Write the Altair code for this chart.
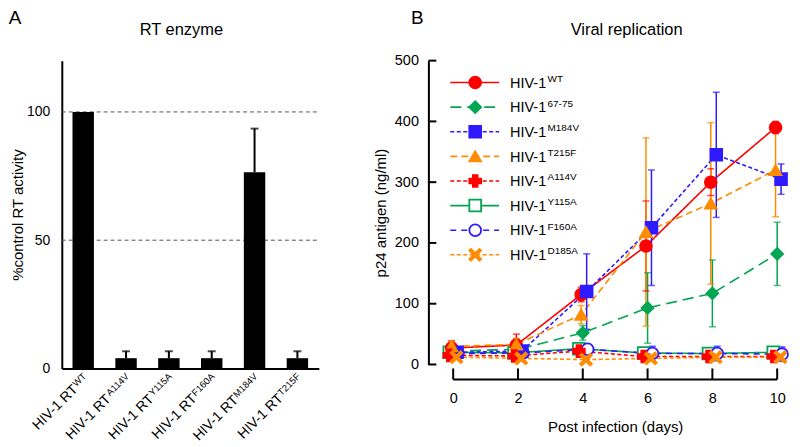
import altair as alt
import pandas as pd

FONT = "Liberation Sans"

# ---------------- Panel A data ----------------
rt_cats = ["WT", "A114V", "Y115A", "F160A", "M184V", "T215F"]
rt_vals = [100, 4, 4, 4, 76.5, 4]
rt_errs = [0, 2.7, 2.7, 2.7, 17, 2.7]
grid_vals = [50, 100]

# ---------------- Panel B data ----------------
days = [0, 2, 4, 6, 8, 10]
series = ["WT", "67-75", "M184V", "T215F", "A114V", "Y115A", "F160A", "D185A"]
vals = {
    "WT":    [27, 32, 115, 195, 300, 390],
    "67-75": [22, 25, 52, 93, 117, 182],
    "M184V": [20, 22, 120, 225, 345, 305],
    "T215F": [30, 33, 82, 218, 265, 320],
    "A114V": [15, 14, 22, 13, 13, 13],
    "Y115A": [20, 19, 26, 19, 18, 20],
    "F160A": [18, 19, 25, 18, 18, 17],
    "D185A": [12, 10, 8, 10, 12, 12],
}
errs = {
    "WT":    [12, 18, 12, 74, 22, 10],
    "67-75": [6, 6, 12, 58, 55, 52],
    "M184V": [5, 5, 62, 95, 103, 25],
    "T215F": [8, 10, 15, 155, 133, 77],
    "A114V": [4, 3, 4, 3, 3, 3],
    "Y115A": [4, 3, 4, 3, 3, 3],
    "F160A": [5, 4, 6, 12, 12, 12],
    "D185A": [3, 2, 2, 2, 2, 2],
}
y_ticks = [0, 100, 200, 300, 400, 500]

# styles
colors = {"WT": "#FF0000", "67-75": "#00A651", "M184V": "#2E1AFF", "T215F": "#FF8C00",
          "A114V": "#FF0000", "Y115A": "#00A651", "F160A": "#2E1AFF", "D185A": "#FF8C00"}
dashes = {"WT": [1, 0], "67-75": [11, 6], "M184V": [4, 2.5], "T215F": [7, 4],
          "A114V": [4, 2.5], "Y115A": [1, 0], "F160A": [6, 5], "D185A": [4, 2.5]}
XPATH = "M-0.72,-1L0,-0.28L0.72,-1L1,-0.72L0.28,0L1,0.72L0.72,1L0,0.28L-0.72,1L-1,0.72L-0.28,0L-1,-0.72Z"
shapes = {"WT": "circle", "67-75": "diamond", "M184V": "square", "T215F": "triangle-up",
          "A114V": "cross", "Y115A": "square", "F160A": "circle", "D185A": XPATH}
fills = {"WT": "#FF0000", "67-75": "#00A651", "M184V": "#2E1AFF", "T215F": "#FF8C00",
         "A114V": "#FF0000", "Y115A": "white", "F160A": "white", "D185A": "#FF8C00"}
dodge = {"WT": -0.05, "67-75": 0.0, "M184V": 0.12, "T215F": -0.05,
         "A114V": -0.12, "Y115A": -0.12, "F160A": 0.15, "D185A": 0.1}
draw_order = ["Y115A", "F160A", "WT", "67-75", "M184V", "T215F", "A114V", "D185A"]

# ---------------- helpers ----------------
CW = {'W': 0.944, 'T': 0.611, 'A': 0.667, '1': 0.556, '4': 0.556, 'V': 0.667, 'Y': 0.667,
      '5': 0.556, 'F': 0.611, '6': 0.556, '0': 0.556, 'M': 0.833, '8': 0.556, '2': 0.556,
      'H': 0.722, 'I': 0.278, '-': 0.333, ' ': 0.278, 'R': 0.722, '7': 0.556}


def text_w(s, fs):
    return sum(CW.get(c, 0.556) for c in s) * fs


# ================= Panel A =================
W1, H1 = 258, 309
dfA = pd.DataFrame({"cat": rt_cats, "val": rt_vals, "err": rt_errs})
dfA["top"] = dfA["val"] + dfA["err"]
dfG = pd.DataFrame({"g": grid_vals})

xA = alt.X("cat:N", sort=rt_cats,
           scale=alt.Scale(paddingInner=0.5, paddingOuter=0.25),
           axis=alt.Axis(labels=False, ticks=False, title=None, domainWidth=2, domainColor="black"))
yscaleA = alt.Scale(domain=[0, 120], nice=False, zero=False, padding=0)
yaxisA = alt.Axis(values=[0, 50, 100], grid=False, ticks=False, labelPadding=12, labelFontSize=14,
                  title="%control RT activity", titleFontSize=15, titleFontWeight="normal",
                  titlePadding=1, domainWidth=2, domainColor="black")

gridA = alt.Chart(dfG).mark_rule(strokeDash=[4, 3], color="#555555", strokeWidth=1).encode(
    y=alt.Y("g:Q", scale=yscaleA, axis=yaxisA), x=alt.value(0), x2=alt.value(W1))
bars = alt.Chart(dfA).mark_bar(color="black").encode(
    x=xA, y=alt.Y("val:Q", scale=yscaleA, axis=yaxisA))
errA = alt.Chart(dfA[dfA["err"] > 0]).mark_rule(color="black", strokeWidth=2).encode(
    x=xA, y=alt.Y("val:Q", scale=yscaleA, axis=yaxisA), y2="top:Q")
capA = alt.Chart(dfA[dfA["err"] > 0]).mark_tick(color="black", orient="horizontal", size=8, thickness=2).encode(
    x=xA, y=alt.Y("top:Q", scale=yscaleA, axis=yaxisA))

LFS, SFS = 14, 9.5
label_layers = []
for c in rt_cats:
    d = pd.DataFrame({"cat": [c], "base": ["HIV-1 RT"], "sup": [c]})
    sw = text_w(c, SFS)
    base = alt.Chart(d).mark_text(angle=315, align="right", baseline="alphabetic", fontSize=LFS,
                                  dx=-(sw + 0.5), dy=8.5, color="black").encode(
        x=xA, y=alt.value(H1 + 5), text="base:N")
    sup = alt.Chart(d).mark_text(angle=315, align="right", baseline="alphabetic", fontSize=SFS,
                                 dy=5, color="black").encode(
        x=xA, y=alt.value(H1 + 5), text="sup:N")
    label_layers += [base, sup]

titleA = alt.Chart(pd.DataFrame({"t": ["RT enzyme"]})).mark_text(
    fontSize=16.5, align="center", baseline="middle", color="black").encode(
    text="t:N", x=alt.value(120), y=alt.value(-31))
letterA = alt.Chart(pd.DataFrame({"t": ["A"]})).mark_text(
    fontSize=19, align="center", baseline="middle", color="black").encode(
    text="t:N", x=alt.value(-47), y=alt.value(-43))

panelA = alt.layer(gridA, bars, errA, capA, *label_layers, titleA, letterA).properties(
    width=W1, height=H1)

# ================= Panel B =================
PXD = 32.5                 # pixels per day
XLO, XHI = -0.15, 10.15    # x domain (room for dodged markers)
W2, H2 = round((XHI - XLO) * PXD), 305
rows = []
for s in draw_order:
    for i, d in enumerate(days):
        v = vals[s][i]
        e = errs[s][i]
        rows.append({"series": s, "day": d, "xd": d + dodge[s], "val": v,
                     "lo": v - e, "hi": v + e})
dfB = pd.DataFrame(rows)

cscale = alt.Scale(domain=series, range=[colors[s] for s in series])
dscale = alt.Scale(domain=series, range=[dashes[s] for s in series])
shscale = alt.Scale(domain=series, range=[shapes[s] for s in series])
fscale = alt.Scale(domain=series, range=[fills[s] for s in series])

xscaleB = alt.Scale(domain=[XLO, XHI], nice=False, zero=False, padding=0)
xaxisB = alt.Axis(values=days, offset=15, ticks=False, domain=False,
                  labelPadding=12, labelFontSize=14.5, grid=False,
                  title="Post infection (days)", titleFontSize=15, titleFontWeight="normal",
                  titlePadding=15)
yscaleB = alt.Scale(domain=[0, 500], nice=False, zero=False, padding=0)
YOFF = round(-XLO * PXD) + 15
yaxisB = alt.Axis(values=y_ticks, offset=YOFF, ticks=False, domainWidth=2, domainColor="black",
                  labelPadding=10, labelFontSize=14.5, grid=False,
                  title="p24 antigen (ng/ml)", titleFontSize=15, titleFontWeight="normal",
                  titlePadding=6)


def XB(f):
    return alt.X(f, scale=xscaleB, axis=xaxisB)


def YB(f):
    return alt.Y(f, scale=yscaleB, axis=yaxisB)


col = alt.Color("series:N", scale=cscale, legend=None)
dash = alt.StrokeDash("series:N", scale=dscale, legend=None)

xline = alt.Chart(pd.DataFrame({"a": [days[0]], "b": [days[-1]]})).mark_rule(
    color="black", strokeWidth=2).encode(x=XB("a:Q"), x2="b:Q", y=alt.value(H2 + 15))
xticks = alt.Chart(pd.DataFrame({"t": days})).mark_rule(color="black", strokeWidth=2).encode(
    x=XB("t:Q"), y=alt.value(H2 + 4), y2=alt.value(H2 + 15))
yticks = alt.Chart(pd.DataFrame({"v": y_ticks})).mark_rule(color="black", strokeWidth=2).encode(
    y=YB("v:Q"), x=alt.value(-YOFF), x2=alt.value(-YOFF + 8))

lines = alt.Chart(dfB).mark_line(strokeWidth=1.6).encode(
    x=XB("xd:Q"), y=YB("val:Q"), color=col, strokeDash=dash, detail="series:N")
errB = alt.Chart(dfB).mark_rule(strokeWidth=1.5).encode(
    x=XB("xd:Q"), y=YB("lo:Q"), y2="hi:Q", color=col)
capLo = alt.Chart(dfB).mark_tick(orient="horizontal", size=7, thickness=1.5).encode(
    x=XB("xd:Q"), y=YB("lo:Q"), color=col)
capHi = alt.Chart(dfB).mark_tick(orient="horizontal", size=7, thickness=1.5).encode(
    x=XB("xd:Q"), y=YB("hi:Q"), color=col)
pts = alt.Chart(dfB).mark_point(size=140, strokeWidth=1.8, opacity=1, fillOpacity=1).encode(
    x=XB("xd:Q"), y=YB("val:Q"),
    shape=alt.Shape("series:N", scale=shscale, legend=None),
    fill=alt.Fill("series:N", scale=fscale, legend=None),
    stroke=alt.Stroke("series:N", scale=cscale, legend=None))

# manual legend (with superscripts); pixel offsets from the plot's left edge
LX = round(-XLO * PXD)
dfL = pd.DataFrame({"series": series,
                    "ly": [22 + 24.7 * i for i in range(len(series))],
                    "base": ["HIV-1"] * len(series)})
yL = alt.Y("ly:Q", scale=None, axis=None)
legLine = alt.Chart(dfL).mark_rule(strokeWidth=1.6).encode(
    x=alt.value(LX - 3), x2=alt.value(LX + 46), y=yL, color=col, strokeDash=dash)
legPts = alt.Chart(dfL).mark_point(size=140, strokeWidth=1.8, opacity=1, fillOpacity=1).encode(
    x=alt.value(LX + 22), y=yL,
    shape=alt.Shape("series:N", scale=shscale, legend=None),
    fill=alt.Fill("series:N", scale=fscale, legend=None),
    stroke=alt.Stroke("series:N", scale=cscale, legend=None))
LEGFS = 14.5
legTxt = alt.Chart(dfL).mark_text(align="left", baseline="alphabetic", fontSize=LEGFS, dy=5.2,
                                  color="black").encode(
    x=alt.value(LX + 57), y=yL, text="base:N")
legSup = alt.Chart(dfL).mark_text(align="left", baseline="alphabetic", fontSize=10, dy=-0.5,
                                  color="black").encode(
    x=alt.value(LX + 57 + text_w("HIV-1", LEGFS) + 0.5), y=yL, text="series:N")

titleB = alt.Chart(pd.DataFrame({"t": ["Viral replication"]})).mark_text(
    fontSize=16.5, align="center", baseline="middle", color="black").encode(
    text="t:N", x=alt.value(LX + 174), y=alt.value(-31))
letterB = alt.Chart(pd.DataFrame({"t": ["B"]})).mark_text(
    fontSize=19, align="center", baseline="middle", color="black").encode(
    text="t:N", x=alt.value(LX - 36), y=alt.value(-43))

panelB = alt.layer(xline, xticks, yticks, lines, errB, capLo, capHi, pts,
                   legLine, legPts, legTxt, legSup, titleB, letterB).properties(
    width=W2, height=H2)

chart = alt.hconcat(panelA, panelB, spacing=135 - LX, bounds="flush").properties(
    padding=0
).configure(font=FONT).configure_view(stroke=None).configure_axis(
    labelColor="black", titleColor="black", labelFont=FONT, titleFont=FONT
).configure_text(font=FONT)

chart.save("out.html", embed_options={"renderer": "svg", "actions": False})
